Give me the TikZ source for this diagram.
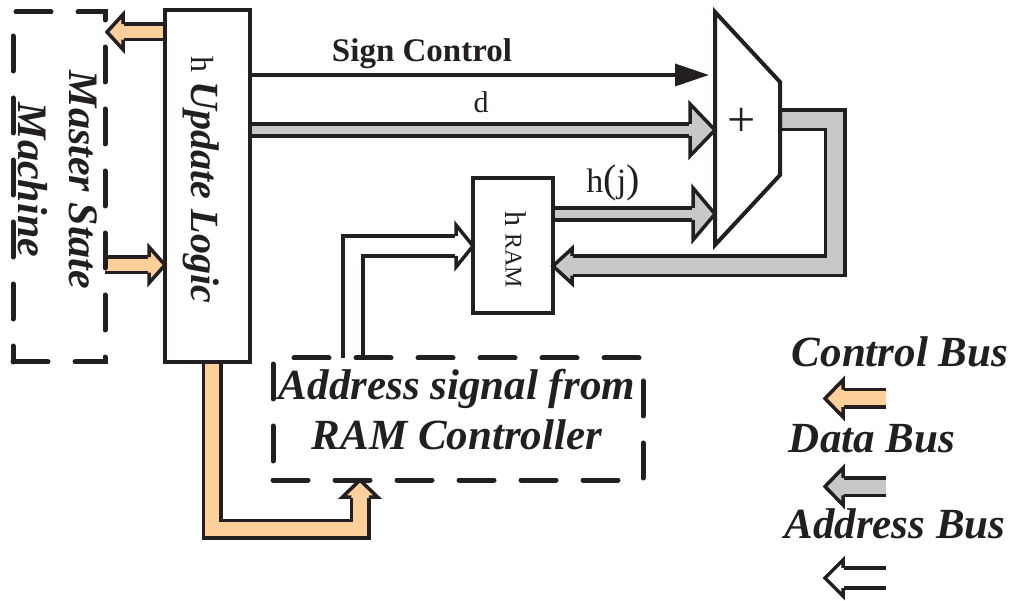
\documentclass[tikz,border=0pt]{standalone}
\usepackage{fontspec}
\setmainfont{Liberation Serif}
\usetikzlibrary{backgrounds,calc,arrows.meta}
\definecolor{ink}{HTML}{231F20}
\definecolor{ctrl}{HTML}{FDD09B}
\definecolor{dat}{HTML}{C7C8CA}
\newcommand{\fsz}[2]{\fontsize{#1}{#2}\selectfont}
\def\bw{3.5pt}
% #1 tip, #2 angle, #3 fill, #4 head length, #5 head half width, #6 shaft half width
\newcommand{\bushead}[6]{%
  \begin{scope}[shift={(#1)},rotate=#2]
    \fill[#3] (0,0) -- (-#4,#5) -- (-#4,-#5) -- cycle;
    \fill[#3] (-#4-1,-#6) rectangle (-#4+1,#6);
    \draw[ink,line width=\bw,line join=miter] (-#4,#6) -- (-#4,#5) -- (0,0) -- (-#4,-#5) -- (-#4,-#6);
  \end{scope}}
\tikzset{
  bus/.style={draw=ink, line width=\bw, double=#1, line join=miter},
  box/.style={draw=ink, line width=4pt, rectangle, inner sep=0pt, outer sep=0pt},
  dbox/.style={draw=ink, line width=5pt, rectangle, inner sep=0pt, outer sep=0pt, dash pattern=on 35pt off 27pt, line cap=round},
  bi/.style={text=ink, font=\fsz{#1}{#1}\bfseries\itshape},
}
\begin{document}
\begin{tikzpicture}[x=1pt,y=1pt]
\useasboundingbox (0,0) rectangle (1017,600);
% boxes
\node[dbox, minimum width=92pt, minimum height=350pt] (msm) at (59,413) {};
\node[box, minimum width=85pt, minimum height=352pt] (ul) at (207.5,414) {};
\node[box, minimum width=80pt, minimum height=135pt] (hram) at (513,354.5) {};
\node[dbox, minimum width=370pt, minimum height=122pt] (addr) at (458,181) {};
% mux
\coordinate (muxTL) at (715,588);
\coordinate (muxTR) at (780,518);
\coordinate (muxBR) at (780,425);
\coordinate (muxBL) at (715,355);
\draw[ink, line width=4pt, line join=miter] (muxTL) -- (muxTR) -- (muxBR) -- (muxBL) -- cycle;
\node[text=ink, font=\fsz{50}{50}] (plus) at (742,478) {+};
% levels
\coordinate (lvTop) at (0,568);
\coordinate (lvMid) at (0,335);
\coordinate (lvSign) at (0,525);
\coordinate (lvD) at (0,470);
\coordinate (lvHj) at (0,386);
\coordinate (lvLoop) at (0,480);
\coordinate (lvLoopB) at (0,334);
\coordinate (lvAddr) at (0,354);
\coordinate (lvCtlB) at (0,71);
\coordinate (xAddr) at (353,0);
\coordinate (xLoop) at (835,0);
\coordinate (xCtl) at (212,0);
\coordinate (xCtl2) at (360,0);
% legend coordinates
\coordinate (legOtip) at (825,201.5);
\coordinate (legOtail) at (886,201.5);
\coordinate (legDtip) at (825,113.5);
\coordinate (legDtail) at (886,113.5);
\coordinate (legAtip) at (825,22);
\coordinate (legAtail) at (886,22);
% texts
\node[bi=42, rotate=-90, align=center, font=\fsz{42}{51}\bfseries\itshape] (msmtxt) at (58,420) {Master State\\Machine};
\node[bi=40, rotate=-90] (ultxt) at (201,420) {{\fsz{32}{32}\mdseries\upshape h}\hspace{9pt}Update Logic};
\node[text=ink, rotate=-90] (hramtxt) at (516,350) {{\fsz{30}{30}h}\hspace{7pt}{\fsz{24}{24}RAM}};
\node[text=ink, font=\fsz{33}{33}\bfseries, anchor=base] (signlbl) at (422,538) {Sign Control};
\node[text=ink, font=\fsz{30}{30}, anchor=base] (dlbl) at (481,487) {d};
\node[text=ink, font=\fsz{34}{34}, anchor=base] (hjlbl) at (613,407) {h{\fsz{40}{40}(}j{\fsz{40}{40})}};
\node[bi=43, anchor=base] (addr1) at (457,200) {Address signal from};
\node[bi=43, anchor=base] (addr2) at (457,150) {RAM Controller};
\node[bi=43, anchor=base] (legC) at (900,233) {Control Bus};
\node[bi=43, anchor=base] (legD) at (872,147) {Data Bus};
\node[bi=43, anchor=base] (legA) at (895,62) {Address Bus};
% sign control
\draw[ink, line width=3.5pt, -{Triangle[length=34pt,width=22pt]}, shorten >=6pt] (ul.east |- lvSign) -- (muxTL |- lvSign);
\begin{scope}[on background layer]
  % control: update -> master
  \draw[bus=ctrl, double distance=12pt] (ul.west |- lvTop) -- ($(msm.east |- lvTop)+(18,0)$);
  \bushead{$(msm.east |- lvTop)+(2,0)$}{180}{ctrl}{16}{17.5}{7.75}
  % control: master -> update
  \draw[bus=ctrl, double distance=12pt] (msm.east |- lvMid) -- ($(ul.west |- lvMid)+(-16,0)$);
  \bushead{ul.west |- lvMid}{0}{ctrl}{16}{18}{7.75}
  % d
  \draw[bus=dat, double distance=8.5pt] (ul.east |- lvD) -- ($(muxTL |- lvD)+(-25,0)$);
  \bushead{muxTL |- lvD}{0}{dat}{25}{26}{6}
  % h(j)
  \draw[bus=dat, double distance=8.5pt] (hram.east |- lvHj) -- ($(muxTL |- lvHj)+(-22,0)$);
  \bushead{muxTL |- lvHj}{0}{dat}{22}{26}{6}
  % loop back
  \draw[bus=dat, double distance=16pt] (muxTR |- lvLoop) -- (xLoop |- lvLoop) -- (xLoop |- lvLoopB) -- ($(hram.east |- lvLoopB)+(19,0)$);
  \bushead{hram.east |- lvLoopB}{180}{dat}{19}{17.5}{9.75}
  % address
  \draw[bus=white, double distance=16.5pt] (xAddr |- addr.north) -- (xAddr |- lvAddr) -- ($(hram.west |- lvAddr)+(-17,0)$);
  \bushead{hram.west |- lvAddr}{0}{white}{17}{21}{10}
  % control bus to address controller
  \draw[bus=ctrl, double distance=14pt] (xCtl |- ul.south) -- (xCtl |- lvCtlB) -- (xCtl2 |- lvCtlB) -- ($(xCtl2 |- addr.south)+(0,-17)$);
  \bushead{xCtl2 |- addr.south}{90}{ctrl}{17}{17.5}{8.75}
  % legend
  \draw[bus=ctrl, double distance=14pt] (legOtail) -- ($(legOtip)+(18,0)$);
  \bushead{legOtip}{180}{ctrl}{18}{18.5}{8.75}
  \draw[bus=dat, double distance=14pt] (legDtail) -- ($(legDtip)+(18,0)$);
  \bushead{legDtip}{180}{dat}{18}{18.5}{8.75}
  \draw[bus=white, double distance=16.5pt] (legAtail) -- ($(legAtip)+(18,0)$);
  \bushead{legAtip}{180}{white}{18}{18}{10}
\end{scope}
\end{tikzpicture}
\end{document}
